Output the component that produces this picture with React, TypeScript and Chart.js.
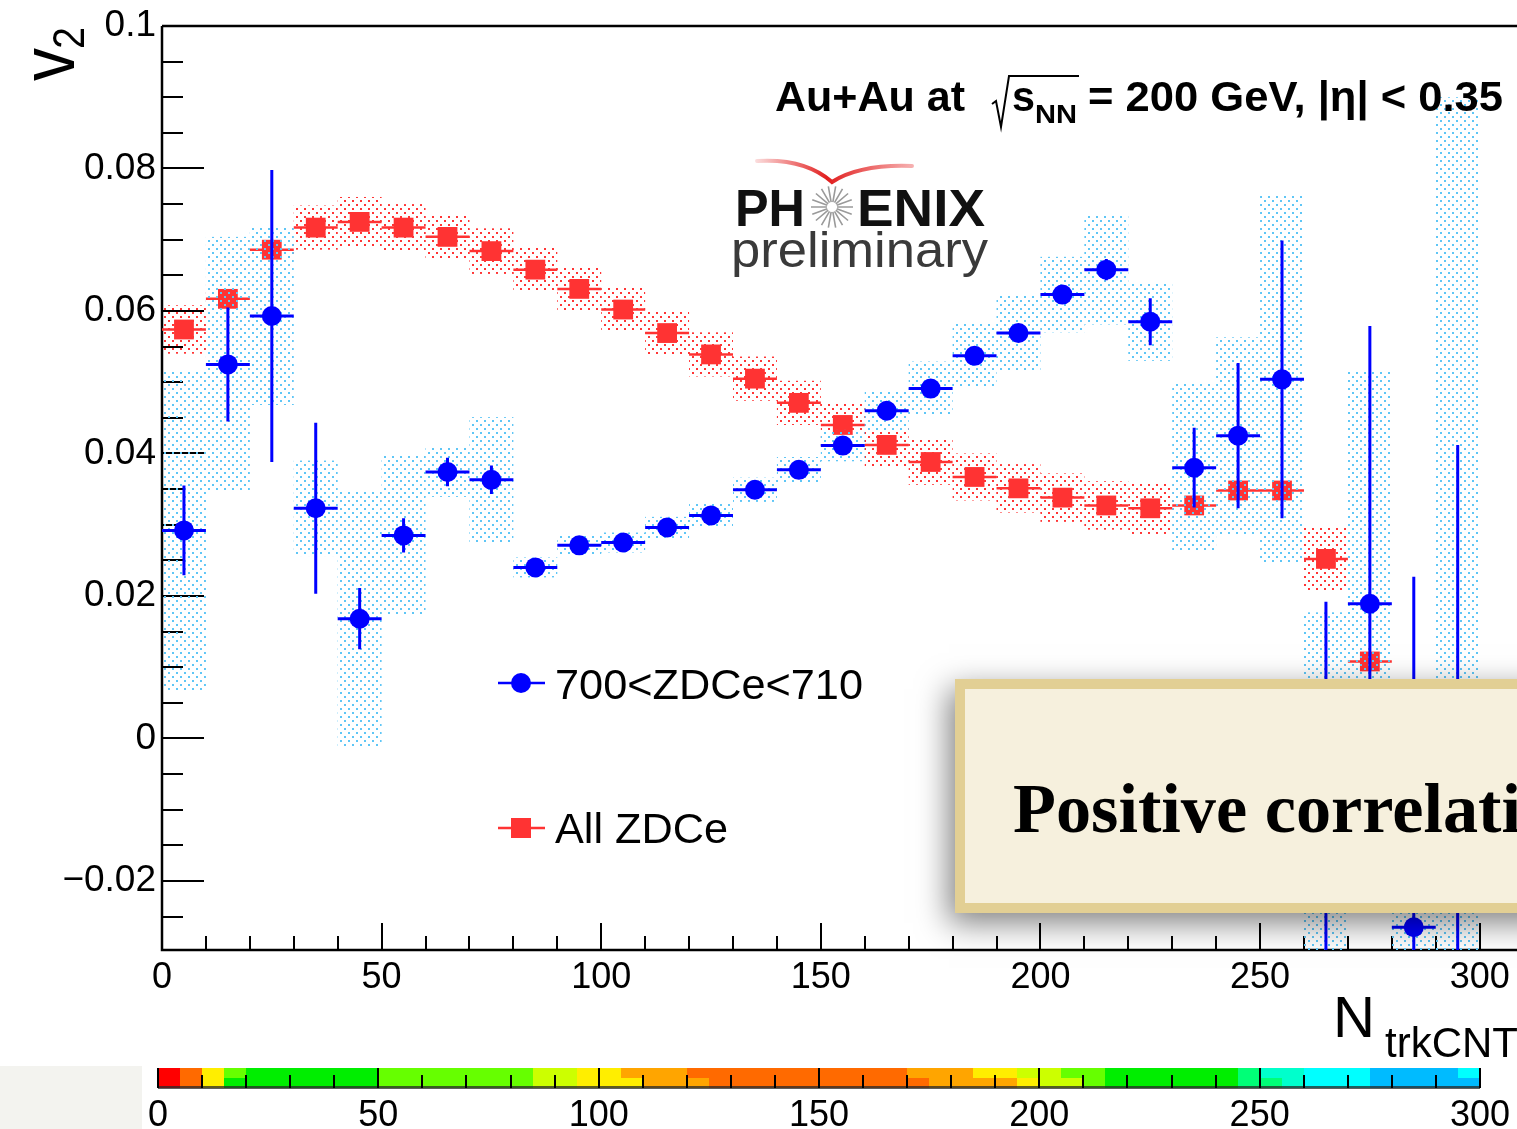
import React, { useEffect, useRef } from 'react';
import { Chart, registerables } from 'chart.js';

Chart.register(...registerables);

const W = 1517;
const H = 1129;

// N_trkCNT bin centres (bin width 10)
const binCenters = [5, 15, 25, 35, 45, 55, 65, 75, 85, 95, 105, 115, 125, 135, 145, 155, 165, 175, 185, 195, 205, 215, 225, 235, 245, 255, 265, 275, 285, 295];
const binHalfWidth = 5;

// 700<ZDCe<710 slice
const sliceV2 = [0.0292, 0.0525, 0.0593, 0.0323, 0.0168, 0.0285, 0.0374, 0.0363, 0.0240, 0.0271, 0.0275, 0.0296, 0.0313, 0.0349, 0.0377, 0.0411, 0.0460, 0.0491, 0.0537, 0.0569, 0.0623, 0.0658, 0.0585, 0.0380, 0.0425, 0.0504, -0.0120, 0.0189, -0.0265, -0.0100];
const sliceStat = [0.0063, 0.0080, 0.0205, 0.0120, 0.0043, 0.0024, 0.0020, 0.0020, 0.0008, 0.0008, 0.0008, 0.0008, 0.0008, 0.0008, 0.0008, 0.0008, 0.0008, 0.0008, 0.0008, 0.0008, 0.0010, 0.0015, 0.0033, 0.0056, 0.0102, 0.0195, 0.0312, 0.0390, 0.0492, 0.0512];
const sliceSys = [0.0224, 0.0179, 0.0125, 0.0067, 0.0180, 0.0112, 0.0035, 0.0088, 0.0014, 0.0014, 0.0014, 0.0015, 0.0016, 0.0017, 0.0018, 0.0022, 0.0028, 0.0038, 0.0045, 0.0054, 0.0053, 0.0077, 0.0055, 0.0118, 0.0138, 0.0258, 0.0297, 0.0326, 0.0200, 0.1000];

// All ZDCe
const allV2 = [0.0574, 0.0617, 0.0686, 0.0717, 0.0725, 0.0717, 0.0704, 0.0684, 0.0658, 0.0631, 0.0602, 0.0569, 0.0539, 0.0505, 0.0471, 0.0440, 0.0412, 0.0388, 0.0367, 0.0351, 0.0338, 0.0327, 0.0323, 0.0327, 0.0348, 0.0348, 0.0252, 0.0108, -0.0040, -0.0120];
const allStat = [0.0010, 0.0007, 0.0007, 0.0007, 0.0007, 0.0007, 0.0007, 0.0007, 0.0007, 0.0007, 0.0007, 0.0007, 0.0007, 0.0007, 0.0007, 0.0007, 0.0007, 0.0007, 0.0007, 0.0007, 0.0007, 0.0007, 0.0007, 0.0007, 0.0007, 0.0007, 0.0010, 0.0010, 0.0080, 0.0150];
const allSys = [0.0034, 0.0012, 0.0012, 0.0031, 0.0035, 0.0033, 0.0032, 0.0032, 0.0031, 0.0031, 0.0031, 0.0031, 0.0031, 0.0031, 0.0031, 0.0031, 0.0032, 0.0032, 0.0033, 0.0034, 0.0034, 0.0034, 0.0036, 0.0012, 0.0012, 0.0012, 0.0046, 0.0012, 0.0020, 0.0030];

// axis ticks
const xTicks = [0, 50, 100, 150, 200, 250, 300];
const yTicks = [-0.02, 0, 0.02, 0.04, 0.06, 0.08, 0.1];

// colour strip below the axis (5-unit cells, upper and lower halves)
const stripPalette = ['#ff0000', '#ff6a00', '#ffa500', '#ffee00', '#ccff00', '#66ff00', '#00ee00', '#00ff77', '#00ffcc', '#00ffff', '#00bbff'];
const stripTop = [0, 1, 3, 5, 6, 6, 6, 6, 6, 6, 5, 5, 5, 5, 5, 5, 5, 4, 4, 3, 3, 2, 2, 2, 1, 1, 1, 1, 1, 1, 1, 1, 1, 1, 2, 2, 2, 3, 3, 4, 4, 5, 5, 6, 6, 6, 6, 6, 6, 7, 8, 8, 9, 9, 9, 10, 10, 10, 10, 9];
const stripBottom = [0, 1, 3, 6, 6, 6, 6, 6, 6, 6, 5, 5, 5, 5, 5, 5, 5, 4, 4, 3, 3, 3, 2, 2, 2, 1, 1, 1, 1, 1, 1, 1, 1, 1, 1, 2, 2, 2, 2, 3, 4, 4, 5, 6, 6, 6, 6, 6, 6, 7, 7, 8, 9, 9, 9, 10, 10, 10, 10, 10];
const stripTicks = [0, 50, 100, 150, 200, 250, 300];

const BLUE = '#0000ff';
const RED = '#ff3333';

function dotTile(color: string, size: number, dots: number[][], dot: number) {
  const c = document.createElement('canvas');
  c.width = size;
  c.height = size;
  const g = c.getContext('2d')!;
  g.fillStyle = color;
  dots.forEach(([dx, dy]) => g.fillRect(dx, dy, dot, dot));
  return c;
}

function drawText(
  ctx: CanvasRenderingContext2D,
  str: string,
  x: number,
  y: number,
  font: string,
  color: string,
  width?: number,
) {
  ctx.save();
  ctx.font = font;
  ctx.fillStyle = color;
  ctx.textAlign = 'left';
  ctx.textBaseline = 'alphabetic';
  const m = ctx.measureText(str).width;
  const sx = width ? width / m : 1;
  ctx.translate(x, y);
  ctx.scale(sx, 1);
  ctx.fillText(str, 0, 0);
  ctx.restore();
}

const axisFramePlugin = {
  id: 'axisFrame',
  beforeDatasetsDraw(chart: any) {
    const { ctx, chartArea: a, scales } = chart;
    const x = scales.x;
    const y = scales.y;
    ctx.save();
    ctx.strokeStyle = '#000';
    ctx.lineWidth = 2;
    ctx.beginPath();
    for (let k = -5; k <= 20; k++) {
      const v = k * 0.005;
      const py = Math.round(y.getPixelForValue(v));
      const len = k % 4 === 0 ? 42 : 21;
      ctx.moveTo(a.left, py);
      ctx.lineTo(a.left + len, py);
    }
    for (let v = 0; v <= 300; v += 10) {
      const px = Math.round(x.getPixelForValue(v));
      const len = v % 50 === 0 ? 27 : 14;
      ctx.moveTo(px, a.bottom);
      ctx.lineTo(px, a.bottom - len);
    }
    ctx.stroke();
    ctx.lineWidth = 2.5;
    ctx.beginPath();
    ctx.moveTo(a.left, a.top);
    ctx.lineTo(a.right, a.top);
    ctx.moveTo(a.left, a.top);
    ctx.lineTo(a.left, a.bottom);
    ctx.lineTo(a.right, a.bottom);
    ctx.stroke();
    ctx.restore();
  },
};

const seriesDefs = [
  { v2: sliceV2, stat: sliceStat, sys: sliceSys, color: BLUE, width: 3, tile: () => dotTile('#5fc6f6', 8, [[0, 0], [4, 4]], 2) },
  { v2: allV2, stat: allStat, sys: allSys, color: RED, width: 2.5, tile: () => dotTile('#ff3535', 8, [[0, 0], [4, 4]], 2) },
];

const errorBandPlugin = {
  id: 'errorBands',
  beforeDatasetDraw(chart: any, args: any) {
    const def = seriesDefs[args.index];
    if (!def) return;
    const { ctx, chartArea: a, scales } = chart;
    const x = scales.x;
    const y = scales.y;
    ctx.save();
    ctx.beginPath();
    ctx.rect(a.left, a.top, a.right - a.left, a.bottom - a.top);
    ctx.clip();
    const pattern = ctx.createPattern(def.tile(), 'repeat');
    ctx.fillStyle = pattern;
    binCenters.forEach((c, i) => {
      const xl = x.getPixelForValue(c - binHalfWidth);
      const xr = x.getPixelForValue(c + binHalfWidth);
      const yt = y.getPixelForValue(def.v2[i] + def.sys[i]);
      const yb = y.getPixelForValue(def.v2[i] - def.sys[i]);
      ctx.fillRect(xl, yt, xr - xl, yb - yt);
    });
    ctx.strokeStyle = def.color;
    ctx.lineWidth = def.width;
    ctx.beginPath();
    binCenters.forEach((c, i) => {
      const px = x.getPixelForValue(c);
      const py = y.getPixelForValue(def.v2[i]);
      ctx.moveTo(x.getPixelForValue(c - binHalfWidth), py);
      ctx.lineTo(x.getPixelForValue(c + binHalfWidth), py);
      ctx.moveTo(px, y.getPixelForValue(def.v2[i] + def.stat[i]));
      ctx.lineTo(px, y.getPixelForValue(def.v2[i] - def.stat[i]));
    });
    ctx.stroke();
    ctx.restore();
  },
};

const decorPlugin = {
  id: 'decor',
  afterDraw(chart: any) {
    const { ctx, scales } = chart;
    const xbar = scales.xbar;
    ctx.save();

    // collision system label
    const tf = 'bold 42px "Liberation Sans"';
    drawText(ctx, 'Au+Au at', 775, 111, tf, '#000', 190);
    ctx.strokeStyle = '#000';
    ctx.lineWidth = 2;
    ctx.beginPath();
    ctx.moveTo(992, 104);
    ctx.lineTo(996, 101);
    ctx.lineTo(1001, 127);
    ctx.lineTo(1009, 76);
    ctx.lineTo(1079, 76);
    ctx.stroke();
    drawText(ctx, 's', 1012, 111, tf, '#000', 23);
    drawText(ctx, 'NN', 1035, 123, 'bold 26px "Liberation Sans"', '#000', 42);
    drawText(ctx, '= 200 GeV, |\u03b7| < 0.35', 1088, 111, tf, '#000', 415);

    // experiment logo
    ctx.save();
    const sw = ctx.createLinearGradient(755, 0, 915, 0);
    sw.addColorStop(0, 'rgba(230,40,40,0.15)');
    sw.addColorStop(0.45, 'rgba(225,30,30,1)');
    sw.addColorStop(1, 'rgba(230,40,40,0.35)');
    ctx.strokeStyle = sw;
    ctx.lineWidth = 4;
    ctx.lineCap = 'round';
    ctx.beginPath();
    ctx.moveTo(757, 161);
    ctx.quadraticCurveTo(805, 158, 832, 182);
    ctx.quadraticCurveTo(860, 164, 912, 166);
    ctx.stroke();
    ctx.restore();
    drawText(ctx, 'PH', 735, 226, 'bold 52px "Liberation Sans"', '#111', 70);
    drawText(ctx, 'ENIX', 857, 226, 'bold 52px "Liberation Sans"', '#111', 128);
    ctx.save();
    ctx.strokeStyle = '#9a9a9a';
    ctx.lineWidth = 1.6;
    ctx.beginPath();
    for (let k = 0; k < 18; k++) {
      const ang = (k / 18) * Math.PI * 2;
      ctx.moveTo(832 + Math.cos(ang) * 5, 207 + Math.sin(ang) * 5);
      ctx.lineTo(832 + Math.cos(ang) * 21, 207 + Math.sin(ang) * 21);
    }
    ctx.stroke();
    ctx.restore();
    drawText(ctx, 'preliminary', 731, 267, '50px "Liberation Sans"', '#3a3a3a', 257);

    // legend
    const lf = '43px "Liberation Sans"';
    ctx.lineWidth = 2.5;
    ctx.strokeStyle = BLUE;
    ctx.beginPath();
    ctx.moveTo(498, 683);
    ctx.lineTo(545, 683);
    ctx.stroke();
    ctx.fillStyle = BLUE;
    ctx.beginPath();
    ctx.arc(521, 683, 10, 0, Math.PI * 2);
    ctx.fill();
    drawText(ctx, '700<ZDCe<710', 555, 699, lf, '#000', 308);
    ctx.strokeStyle = RED;
    ctx.beginPath();
    ctx.moveTo(498, 828);
    ctx.lineTo(545, 828);
    ctx.stroke();
    ctx.fillStyle = RED;
    ctx.fillRect(511, 818, 20, 20);
    drawText(ctx, 'All ZDCe', 555, 843, lf, '#000', 173);

    // axis titles
    drawText(ctx, 'N', 1333, 1037, '58px "Liberation Sans"', '#000', 42);
    drawText(ctx, 'trkCNT', 1385, 1057, '42px "Liberation Sans"', '#000', 133);
    ctx.save();
    ctx.translate(74, 81);
    ctx.rotate(-Math.PI / 2);
    drawText(ctx, 'v', 0, 0, '76px "Liberation Sans"', '#000', 33);
    ctx.restore();
    ctx.save();
    ctx.translate(84, 49);
    ctx.rotate(-Math.PI / 2);
    drawText(ctx, '2', 0, 0, '44px "Liberation Sans"', '#000', 22);
    ctx.restore();

    // annotation card
    ctx.save();
    ctx.shadowColor = 'rgba(0,0,0,0.5)';
    ctx.shadowBlur = 30;
    ctx.shadowOffsetX = -6;
    ctx.shadowOffsetY = 10;
    ctx.fillStyle = '#e2cf94';
    ctx.fillRect(955, 679, 700, 234);
    ctx.restore();
    ctx.fillStyle = '#f6f0dd';
    ctx.fillRect(965, 689, 700, 214);
    ctx.save();
    ctx.font = 'bold 70px "Liberation Serif"';
    const full = 'Positive correlation';
    const part = ctx.measureText('Positive correlati').width;
    ctx.translate(1013, 832);
    ctx.scale(508 / part, 1);
    ctx.fillStyle = '#000';
    ctx.fillText(full, 0, 0);
    ctx.restore();

    // colour strip
    ctx.fillStyle = '#f3f3ef';
    ctx.fillRect(0, 1066, 142, H - 1066);
    const top = 1068;
    const mid = 1078;
    const bot = 1088;
    stripTop.forEach((p, i) => {
      const x0 = Math.round(xbar.getPixelForValue(i * 5));
      const x1 = Math.round(xbar.getPixelForValue(i * 5 + 5));
      ctx.fillStyle = stripPalette[p];
      ctx.fillRect(x0, top, x1 - x0, mid - top);
      ctx.fillStyle = stripPalette[stripBottom[i]];
      ctx.fillRect(x0, mid, x1 - x0, bot - mid);
    });
    const x0 = xbar.getPixelForValue(0);
    const x1 = xbar.getPixelForValue(300);
    ctx.fillStyle = 'rgba(40,40,40,0.75)';
    ctx.fillRect(x0, bot - 2, x1 - x0, 3);
    ctx.strokeStyle = '#000';
    ctx.lineWidth = 2;
    ctx.beginPath();
    ctx.moveTo(x0, top);
    ctx.lineTo(x0, bot);
    for (let v = 10; v <= 300; v += 10) {
      const px = Math.round(xbar.getPixelForValue(v));
      ctx.moveTo(px, v % 50 === 0 ? top : top + 7);
      ctx.lineTo(px, bot);
    }
    ctx.stroke();
    ctx.font = '36px "Liberation Sans"';
    ctx.fillStyle = '#000';
    ctx.textAlign = 'center';
    ctx.textBaseline = 'alphabetic';
    stripTicks.forEach((v) => ctx.fillText(String(v), xbar.getPixelForValue(v), 1126));

    ctx.restore();
  },
};

export default function App() {
  const ref = useRef<HTMLCanvasElement>(null);

  useEffect(() => {
    document.body.style.margin = '0';
    document.body.style.background = '#fff';
    const canvas = ref.current!;
    const chart = new Chart(canvas, {
      type: 'scatter',
      data: {
        datasets: [
          {
            label: '700<ZDCe<710',
            data: binCenters.map((c, i) => ({ x: c, y: sliceV2[i] })),
            pointStyle: 'circle',
            pointRadius: 10,
            backgroundColor: BLUE,
            borderColor: BLUE,
            borderWidth: 0,
          },
          {
            label: 'All ZDCe',
            data: binCenters.map((c, i) => ({ x: c, y: allV2[i] })),
            pointStyle: 'rect',
            pointRadius: 14,
            backgroundColor: RED,
            borderColor: RED,
            borderWidth: 0,
          },
        ],
      },
      options: {
        responsive: false,
        animation: false,
        devicePixelRatio: 1,
        events: [],
        layout: { autoPadding: false, padding: { top: 26, right: 0, bottom: 0, left: 0 } },
        plugins: { legend: { display: false }, tooltip: { enabled: false } },
        scales: {
          x: {
            type: 'linear',
            position: 'bottom',
            min: 0,
            max: 308.5,
            grid: { display: false, drawTicks: false },
            border: { display: false },
            afterBuildTicks: (s: any) => {
              s.ticks = xTicks.map((v) => ({ value: v }));
            },
            afterFit: (s: any) => {
              s.height = 179;
              s.paddingLeft = 0;
              s.paddingRight = 0;
            },
            ticks: {
              autoSkip: false,
              maxRotation: 0,
              minRotation: 0,
              padding: 6,
              color: '#000',
              font: { family: 'Liberation Sans', size: 36 },
              callback: (v: any) => String(v),
            },
          },
          xbar: {
            type: 'linear',
            axis: 'x',
            position: 'bottom',
            display: false,
            min: 0.908,
            max: 308.4,
          },
          y: {
            type: 'linear',
            min: -0.0297,
            max: 0.1,
            grid: { display: false, drawTicks: false },
            border: { display: false },
            afterBuildTicks: (s: any) => {
              s.ticks = yTicks.map((v) => ({ value: v }));
            },
            afterFit: (s: any) => {
              s.width = 162;
              s.paddingTop = 0;
              s.paddingBottom = 0;
            },
            ticks: {
              padding: 6,
              color: '#000',
              font: { family: 'Liberation Sans', size: 37 },
              callback: (v: any) => (v === 0 ? '0' : v < 0 ? '\u2212' + String(-v) : String(v)),
            },
          },
        },
      } as any,
      plugins: [axisFramePlugin, errorBandPlugin, decorPlugin],
    });
    return () => chart.destroy();
  }, []);

  return <canvas ref={ref} width={W} height={H} style={{ display: 'block' }} />;
}
